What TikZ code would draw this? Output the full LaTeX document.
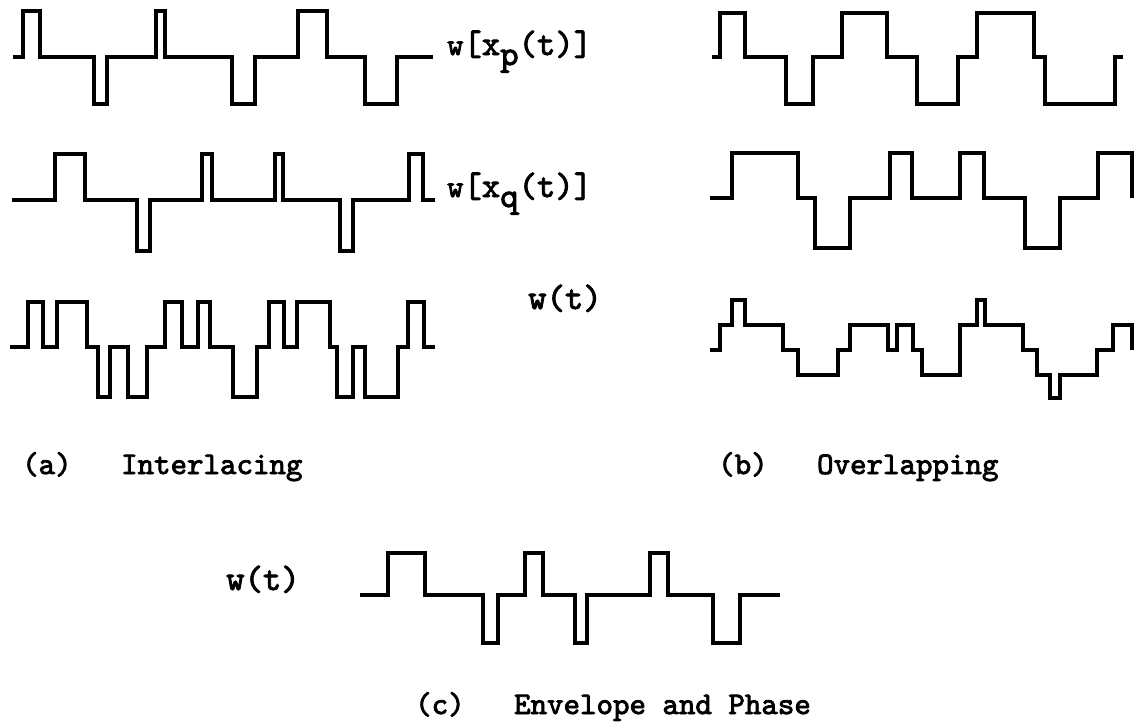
\documentclass[tikz,border=0pt]{standalone}
\usepackage{fontspec}
\newfontfamily\twfont{lmmono10-regular.otf}[FakeBold=2.6]
\begin{document}
\begin{tikzpicture}[x=1pt,y=-1pt,
  wave/.style={line width=3.4pt,line join=miter},
  lbl/.style={anchor=base west,inner sep=0pt,font=\fontsize{31.4}{34}\twfont},
  sig/.style={anchor=base west,inner sep=0pt,font=\fontsize{35}{37}\twfont}]
\useasboundingbox[fill=white] (0,0) rectangle (1136,728);
% ---- row 1 left: w[x_p(t)] interlacing
\def\B{57}\def\T{11}\def\D{104}
\draw[wave] (13,\B) -- (23,\B) -- (23,\T) -- (40,\T) -- (40,\B) -- (94,\B) -- (94,\D) -- (107,\D) -- (107,\B) -- (156,\B) -- (156,\T) -- (165,\T) -- (165,\B) -- (232,\B) -- (232,\D) -- (255,\D) -- (255,\B) -- (298,\B) -- (298,\T) -- (327,\T) -- (327,\B) -- (365,\B) -- (365,\D) -- (397,\D) -- (397,\B) -- (433,\B);
% ---- row 1 right
\def\B{57}\def\T{13}\def\D{104}
\draw[wave] (712,\B) -- (720,\B) -- (720,\T) -- (745,\T) -- (745,\B) -- (786,\B) -- (786,\D) -- (813,\D) -- (813,\B) -- (842,\B) -- (842,\T) -- (887,\T) -- (887,\B) -- (917,\B) -- (917,\D) -- (958,\D) -- (958,\B) -- (977,\B) -- (977,\T) -- (1034,\T) -- (1034,\B) -- (1045,\B) -- (1045,\D) -- (1115,\D) -- (1115,\B) -- (1123,\B);
% ---- row 2 left
\def\B{200}\def\T{154}\def\D{251}
\draw[wave] (12,\B) -- (55,\B) -- (55,\T) -- (85,\T) -- (85,\B) -- (137,\B) -- (137,\D) -- (150,\D) -- (150,\B) -- (202,\B) -- (202,\T) -- (212,\T) -- (212,\B) -- (275,\B) -- (275,\T) -- (283,\T) -- (283,\B) -- (340,\B) -- (340,\D) -- (353,\D) -- (353,\B) -- (409,\B) -- (409,\T) -- (423,\T) -- (423,\B) -- (435,\B);
% ---- row 2 right
\def\B{198}\def\T{153}\def\D{248}
\draw[wave] (710,\B) -- (732,\B) -- (732,\T) -- (798,\T) -- (798,\B) -- (815,\B) -- (815,\D) -- (850,\D) -- (850,\B) -- (890,\B) -- (890,\T) -- (912,\T) -- (912,\B) -- (960,\B) -- (960,\T) -- (984,\T) -- (984,\B) -- (1025,\B) -- (1025,\D) -- (1060,\D) -- (1060,\B) -- (1098,\B) -- (1098,\T) -- (1132,\T) -- (1132,\B);
% ---- row 3 left
\def\B{347}\def\T{302}\def\D{397}
\draw[wave] (10,\B) -- (28,\B) -- (28,\T) -- (43,\T) -- (43,\B) -- (57,\B) -- (57,\T) -- (87,\T) -- (87,\B) -- (98,\B) -- (98,\D) -- (110,\D) -- (110,\B) -- (128,\B) -- (128,\D) -- (147,\D) -- (147,\B) -- (165,\B) -- (165,\T) -- (182,\T) -- (182,\B) -- (198,\B) -- (198,\T) -- (210,\T) -- (210,\B) -- (233,\B) -- (233,\D) -- (257,\D) -- (257,\B) -- (269,\B) -- (269,\T) -- (284,\T) -- (284,\B) -- (297,\B) -- (297,\T) -- (330,\T) -- (330,\B) -- (337,\B) -- (337,\D) -- (353,\D) -- (353,\B) -- (365,\B) -- (365,\D) -- (398,\D) -- (398,\B) -- (408,\B) -- (408,\T) -- (424,\T) -- (424,\B) -- (435,\B);
% ---- row 3 right (multilevel)
\def\PP{300}\def\P{325}\def\Z{350}\def\M{375}\def\MM{398}
\draw[wave] (710,\Z) -- (720,\Z) -- (720,\P) -- (732,\P) -- (732,\PP) -- (745,\PP) -- (745,\P) -- (783,\P) -- (783,\Z) -- (798,\Z) -- (798,\M) -- (838,\M) -- (838,\Z) -- (850,\Z) -- (850,\P) -- (888,\P) -- (888,\Z) -- (897,\Z) -- (897,\P) -- (913,\P) -- (913,\Z) -- (922,\Z) -- (922,\M) -- (960,\M) -- (960,\P) -- (977,\P) -- (977,\PP) -- (985,\PP) -- (985,\P) -- (1023,\P) -- (1023,\Z) -- (1037,\Z) -- (1037,\M) -- (1050,\M) -- (1050,\MM) -- (1060,\MM) -- (1060,\M) -- (1097,\M) -- (1097,\Z) -- (1113,\Z) -- (1113,\P) -- (1132,\P) -- (1132,\Z);
% ---- row c
\def\B{595}\def\T{553}\def\D{643}
\draw[wave] (360,\B) -- (388,\B) -- (388,\T) -- (425,\T) -- (425,\B) -- (483,\B) -- (483,\D) -- (498,\D) -- (498,\B) -- (525,\B) -- (525,\T) -- (543,\T) -- (543,\B) -- (575,\B) -- (575,\D) -- (587,\D) -- (587,\B) -- (650,\B) -- (650,\T) -- (668,\T) -- (668,\B) -- (713,\B) -- (713,\D) -- (740,\D) -- (740,\B) -- (780,\B);
% ---- labels
\node[sig] (lp) at (447,55) {{\fontsize{31}{33}\selectfont w}[x\raisebox{-10pt}{p}(t)]};
\node[sig] (lq) at (447,197) {{\fontsize{31}{33}\selectfont w}[x\raisebox{-10pt}{q}(t)]};
\node[sig] (lw) at (528,309) {w(t)};
\node[lbl] (ca) at (22,474) {(a)~~~Interlacing};
\node[lbl] (cb) at (718,474) {(b)~~~Overlapping};
\node[sig] (lwc) at (226,590) {w(t)};
\node[lbl] (cc) at (415,714) {(c)~~~Envelope and Phase};
\end{tikzpicture}
\end{document}
